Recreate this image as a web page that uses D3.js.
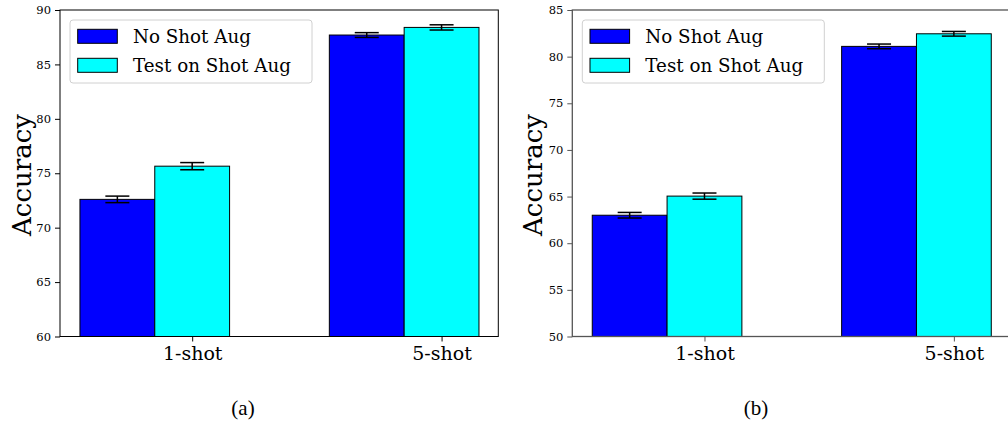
<!DOCTYPE html>
<html>
<head>
<meta charset="utf-8">
<script src="https://cdn.jsdelivr.net/npm/d3@7"></script>
<style>
  body { margin: 0; background: #fff; }
  svg { display: block; }
</style>
</head>
<body>
<div id="chart"></div>
<script>
// data
var categories = ["1-shot", "5-shot"];
var seriesNames = ["No Shot Aug", "Test on Shot Aug"];
var seriesColors = ["#0000ff", "#00ffff"];

var noAugA = [72.6, 87.7],   noAugErrA = [0.3, 0.22];
var testAugA = [75.65, 88.4], testAugErrA = [0.33, 0.24];
var noAugB = [63.0, 81.1],   noAugErrB = [0.3, 0.25];
var testAugB = [65.05, 82.45], testAugErrB = [0.33, 0.25];

var yTicksA = [60, 65, 70, 75, 80, 85, 90];
var yTicksB = [50, 55, 60, 65, 70, 75, 80, 85];

var width = 1008, height = 423;
var barW = 0.3;

var svg = d3.select("#chart").append("svg")
  .attr("width", width)
  .attr("height", height);

function drawPanel(opts) {
  var g = svg.append("g");
  var x = d3.scaleLinear().domain([-0.23, 1.5275]).range([opts.left, opts.right]);
  var y = d3.scaleLinear().domain(opts.yDomain).range([336.5, 10]);
  var series = [opts.a, opts.b];
  var errs = [opts.aErr, opts.bErr];

  // bars
  series.forEach(function(vals, s) {
    g.selectAll(null)
      .data(vals)
      .enter()
      .append("rect")
      .attr("x", function(d, i) { return x(i + s * barW - barW / 2); })
      .attr("width", x(barW) - x(0))
      .attr("y", function(d) { return y(d); })
      .attr("height", function(d) { return y(opts.yDomain[0]) - y(d); })
      .attr("fill", seriesColors[s])
      .attr("stroke", "#000")
      .attr("stroke-width", 1);
  });

  // error bars
  series.forEach(function(vals, s) {
    vals.forEach(function(d, i) {
      var cx = x(i + s * barW);
      var e = errs[s][i];
      g.append("line").attr("x1", cx).attr("x2", cx)
        .attr("y1", y(d + e)).attr("y2", y(d - e))
        .attr("stroke", "#000").attr("stroke-width", 1.5);
      [d + e, d - e].forEach(function(v) {
        g.append("line").attr("x1", cx - 12).attr("x2", cx + 12)
          .attr("y1", y(v)).attr("y2", y(v))
          .attr("stroke", "#000").attr("stroke-width", 1.5);
      });
    });
  });

  // frame
  g.append("rect")
    .attr("x", opts.left).attr("y", 10)
    .attr("width", opts.right - opts.left).attr("height", 326.5)
    .attr("fill", "none")
    .attr("stroke", opts.spine)
    .attr("stroke-width", opts.spineW);

  // y axis
  var yAxis = g.append("g")
    .attr("transform", "translate(" + opts.left + ",0)")
    .call(d3.axisLeft(y).tickValues(opts.yTicks).tickSize(5).tickPadding(4));
  yAxis.select(".domain").remove();
  yAxis.selectAll("line").attr("stroke", opts.spine);
  yAxis.selectAll("text")
    .style("font-family", "'DejaVu Serif', serif")
    .style("font-size", "11.5px")
    .attr("fill", "#000");

  // x axis, ticks under the second bar of each group
  var xAxis = g.append("g")
    .attr("transform", "translate(0,336.5)")
    .call(d3.axisBottom(x).tickValues([0 + barW, 1 + barW])
      .tickFormat(function(d, i) { return categories[i]; })
      .tickSize(5).tickPadding(5));
  xAxis.select(".domain").remove();
  xAxis.selectAll("line").attr("stroke", opts.spine);
  xAxis.selectAll("text")
    .style("font-family", "'DejaVu Serif', serif")
    .style("font-size", "19px")
    .attr("fill", "#000");

  // y label
  g.append("text")
    .attr("transform", "translate(" + opts.yLabelX + ",175) rotate(-90)")
    .attr("text-anchor", "middle")
    .style("font-family", "'DejaVu Serif', serif")
    .style("font-size", "26px")
    .text("Accuracy");

  // legend
  var lg = g.append("g").attr("transform", "translate(" + (opts.left + 10) + ",20)");
  lg.append("rect")
    .attr("width", 242).attr("height", 63)
    .attr("rx", 3)
    .attr("fill", "#fff").attr("fill-opacity", 0.8)
    .attr("stroke", "#d0d0d0");
  seriesNames.forEach(function(name, s) {
    lg.append("rect")
      .attr("x", 7.7).attr("y", 9.3 + s * 29)
      .attr("width", 39.6).attr("height", 14)
      .attr("fill", seriesColors[s])
      .attr("stroke", "#000").attr("stroke-width", 1);
    lg.append("text")
      .attr("x", 63).attr("y", 23 + s * 29)
      .style("font-family", "'DejaVu Serif', serif")
      .style("font-size", "18.3px")
      .text(name);
  });

  // caption
  svg.append("text")
    .attr("x", opts.captionX).attr("y", 415)
    .attr("text-anchor", "middle")
    .style("font-family", "'Liberation Serif', 'Times New Roman', serif")
    .style("font-size", "21px")
    .text(opts.caption);
}

drawPanel({
  left: 60, right: 498.3, yDomain: [60, 90], yTicks: yTicksA,
  a: noAugA, aErr: noAugErrA, b: testAugA, bErr: testAugErrA,
  spine: "#000", spineW: 1, yLabelX: 31, captionX: 243, caption: "(a)"
});

drawPanel({
  left: 572.3, right: 1010.6, yDomain: [50, 85], yTicks: yTicksB,
  a: noAugB, aErr: noAugErrB, b: testAugB, bErr: testAugErrB,
  spine: "#555", spineW: 1.3, yLabelX: 542, captionX: 756, caption: "(b)"
});
</script>
</body>
</html>
